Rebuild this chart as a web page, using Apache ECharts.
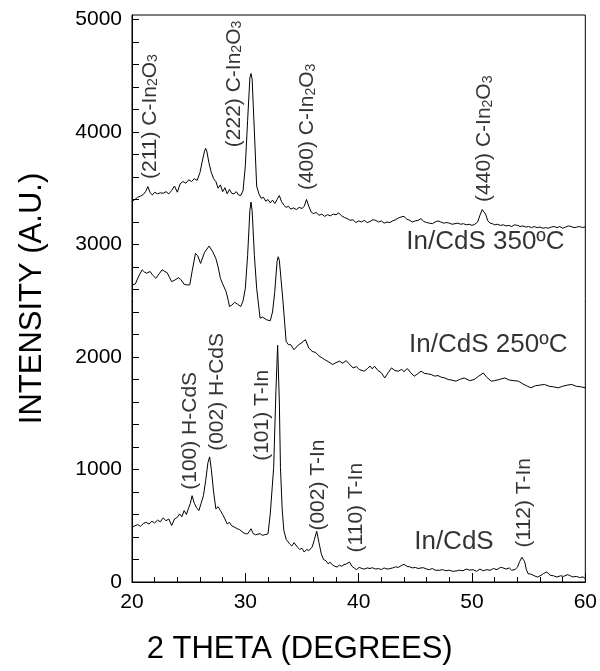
<!DOCTYPE html>
<html>
<head>
<meta charset="utf-8">
<script src="https://cdn.jsdelivr.net/npm/echarts@6/dist/echarts.min.js"></script>
<style>html,body{margin:0;background:#fff}#main{width:600px;height:671px}</style>
</head>
<body>
<div id="main"></div>
<script>
// XRD scans [2theta, intensity]
var scan350 = [
  [20.0,3384],[20.25,3400],[20.5,3420],[20.75,3430],[21.0,3445],[21.2,3470],[21.4,3515],[21.6,3460],[21.8,3440],
  [22.0,3465],[22.25,3450],[22.5,3460],[22.75,3455],[23.0,3470],[23.25,3450],[23.5,3480],[23.75,3520],[24.0,3465],
  [24.25,3540],[24.5,3560],[24.75,3545],[25.0,3575],[25.25,3560],[25.5,3585],[25.75,3570],[26.0,3640],[26.2,3740],
  [26.4,3830],[26.5,3855],[26.6,3830],[26.8,3720],[27.0,3640],[27.2,3585],[27.4,3560],[27.6,3500],[27.8,3530],
  [28.0,3470],[28.2,3505],[28.4,3450],[28.6,3490],[28.8,3455],[29.0,3450],[29.2,3470],[29.4,3440],[29.6,3435],
  [29.8,3480],[30.0,3700],[30.2,4100],[30.4,4480],[30.5,4520],[30.6,4470],[30.8,4000],[31.0,3520],[31.2,3450],
  [31.4,3410],[31.6,3420],[31.8,3385],[32.0,3400],[32.2,3370],[32.4,3395],[32.6,3365],[32.8,3400],[33.0,3435],
  [33.2,3380],[33.4,3350],[33.6,3330],[33.8,3340],[34.0,3315],[34.25,3325],[34.5,3310],[34.75,3330],[35.0,3320],
  [35.2,3340],[35.4,3400],[35.6,3340],[35.8,3290],[36.0,3275],[36.25,3285],[36.5,3260],[36.75,3270],[37.0,3250],
  [37.25,3265],[37.5,3255],[37.75,3270],[38.0,3265],[38.25,3280],[38.5,3255],[38.75,3240],[39.0,3230],[39.25,3215],
  [39.5,3220],[39.75,3195],[40.0,3210],[40.25,3200],[40.5,3215],[40.75,3195],[41.0,3205],[41.25,3220],[41.5,3215],
  [41.75,3200],[42.0,3210],[42.25,3190],[42.5,3200],[42.75,3195],[43.0,3210],[43.25,3220],[43.5,3235],[43.75,3245],
  [44.0,3250],[44.25,3225],[44.5,3215],[44.75,3200],[45.0,3210],[45.25,3215],[45.5,3230],[45.75,3205],[46.0,3195],
  [46.25,3190],[46.5,3185],[46.75,3200],[47.0,3210],[47.25,3200],[47.5,3190],[47.75,3195],[48.0,3190],[48.25,3180],
  [48.5,3185],[48.75,3190],[49.0,3180],[49.25,3185],[49.5,3175],[49.75,3180],[50.0,3170],[50.25,3180],[50.5,3200],
  [50.7,3260],[50.9,3310],[51.0,3315],[51.2,3270],[51.4,3210],[51.6,3190],[51.8,3185],[52.0,3175],[52.25,3180],
  [52.5,3170],[52.75,3175],[53.0,3165],[53.25,3170],[53.5,3160],[53.75,3175],[54.0,3170],[54.25,3160],[54.5,3165],
  [54.75,3155],[55.0,3160],[55.25,3150],[55.5,3160],[55.75,3150],[56.0,3155],[56.25,3145],[56.5,3150],[56.75,3145],
  [57.0,3155],[57.25,3160],[57.5,3150],[57.75,3160],[58.0,3145],[58.25,3155],[58.5,3165],[58.75,3160],[59.0,3150],
  [59.25,3155],[59.5,3160],[59.75,3150],[60.0,3157]
];
var scan250 = [
  [20.0,2640],[20.3,2650],[20.6,2720],[20.9,2775],[21.1,2755],[21.3,2745],[21.6,2760],[21.8,2730],[22.1,2700],
  [22.4,2740],[22.65,2775],[22.9,2760],[23.1,2750],[23.3,2710],[23.5,2670],[23.8,2685],[24.1,2705],[24.3,2690],
  [24.6,2646],[24.9,2640],[25.1,2642],[25.3,2760],[25.6,2920],[25.8,2900],[26.05,2832],[26.4,2930],[26.8,2986],
  [27.1,2940],[27.4,2876],[27.6,2800],[27.8,2700],[28.0,2650],[28.3,2582],[28.5,2500],[28.6,2449],[28.8,2460],
  [29.05,2487],[29.3,2470],[29.6,2449],[29.8,2500],[30.0,2611],[30.2,2900],[30.4,3300],[30.5,3378],[30.6,3300],
  [30.8,2900],[31.0,2611],[31.3,2345],[31.5,2355],[31.65,2354],[31.9,2330],[32.2,2322],[32.4,2400],[32.6,2582],
  [32.8,2850],[32.9,2891],[33.0,2860],[33.3,2522],[33.6,2139],[33.8,2110],[34.0,2110],[34.3,2065],[34.6,2100],
  [35.0,2130],[35.3,2154],[35.6,2080],[35.9,2050],[36.2,2040],[36.5,2010],[36.8,1990],[37.0,1977],[37.3,1960],
  [37.7,1933],[38.0,1950],[38.3,1963],[38.6,1945],[38.9,1968],[39.2,1935],[39.5,1903],[39.8,1915],[40.05,1889],
  [40.3,1880],[40.5,1874],[40.8,1900],[41.0,1920],[41.2,1895],[41.4,1918],[41.7,1880],[42.0,1860],[42.3,1814],
  [42.6,1860],[42.9,1903],[43.2,1880],[43.5,1874],[43.8,1890],[44.0,1870],[44.3,1897],[44.6,1860],[44.9,1829],
  [45.2,1850],[45.5,1874],[45.8,1855],[46.1,1850],[46.4,1844],[46.7,1830],[47.0,1835],[47.3,1820],[47.6,1814],
  [47.9,1800],[48.2,1795],[48.6,1785],[48.9,1800],[49.3,1814],[49.8,1790],[50.2,1800],[50.6,1830],[51.0,1858],
  [51.3,1820],[51.7,1785],[52.0,1790],[52.4,1800],[52.9,1814],[53.3,1795],[53.7,1790],[54.1,1785],[54.5,1760],
  [54.9,1740],[55.2,1726],[55.6,1745],[56.0,1750],[56.4,1756],[56.8,1740],[57.2,1735],[57.6,1726],[58.0,1740],
  [58.4,1750],[58.8,1756],[59.2,1740],[59.6,1735],[60.0,1726]
];
var scanAsDep = [
  [20.0,487],[20.25,500],[20.5,510],[20.75,495],[21.0,520],[21.25,530],[21.5,515],[21.75,540],[22.0,525],
  [22.25,550],[22.5,535],[22.75,570],[23.0,545],[23.25,560],[23.5,502],[23.75,560],[24.0,575],[24.2,605],
  [24.4,580],[24.6,635],[24.8,600],[25.0,660],[25.15,700],[25.3,767],[25.5,700],[25.7,660],[25.9,635],[26.1,700],
  [26.3,767],[26.5,900],[26.7,1060],[26.85,1112],[27.0,1000],[27.2,800],[27.4,650],[27.6,670],[27.8,635],
  [28.0,600],[28.2,560],[28.4,517],[28.6,530],[28.8,500],[29.0,490],[29.3,473],[29.5,465],[29.8,440],[30.0,430],
  [30.2,428],[30.35,450],[30.5,473],[30.7,430],[30.9,420],[31.06,413],[31.3,430],[31.5,415],[31.7,420],[32.0,428],
  [32.2,605],[32.5,1018],[32.7,1700],[32.85,2104],[33.0,1600],[33.1,1018],[33.25,650],[33.4,458],[33.6,380],
  [33.9,340],[34.1,320],[34.3,350],[34.6,310],[34.8,290],[35.0,300],[35.2,266],[35.4,290],[35.6,280],[35.9,310],
  [36.1,380],[36.3,451],[36.5,350],[36.7,251],[36.9,200],[37.1,190],[37.3,163],[37.5,175],[37.7,150],[37.9,140],
  [38.1,133],[38.3,150],[38.5,140],[38.7,155],[38.9,160],[39.2,177],[39.4,140],[39.6,125],[39.8,110],[40.05,130],
  [40.3,120],[40.5,115],[40.75,125],[41.0,120],[41.2,127],[41.5,115],[41.75,120],[42.0,110],[42.25,125],[42.5,115],
  [42.7,118],[43.0,125],[43.25,135],[43.5,130],[43.75,145],[44.0,157],[44.25,140],[44.5,135],[44.75,125],[45.0,130],
  [45.25,120],[45.5,125],[45.7,127],[46.0,115],[46.25,110],[46.5,120],[46.75,105],[47.1,104],[47.4,110],[47.7,100],
  [48.0,105],[48.3,95],[48.6,98],[48.9,105],[49.2,100],[49.5,115],[49.8,105],[50.1,110],[50.4,95],[50.7,115],
  [51.0,100],[51.3,110],[51.6,104],[51.9,120],[52.2,110],[52.5,130],[52.7,127],[53.0,115],[53.3,125],[53.5,105],
  [53.8,110],[54.0,130],[54.2,180],[54.4,220],[54.5,227],[54.65,180],[54.8,110],[54.95,74],[55.2,70],[55.5,55],
  [55.8,44],[56.1,60],[56.3,75],[56.6,89],[56.9,60],[57.2,55],[57.5,44],[57.8,55],[58.1,50],[58.4,65],[58.6,59],
  [58.9,45],[59.2,50],[59.5,40],[59.8,45],[60.0,30]
];

// peak labels: [2theta, intensity where text starts, text]
var peakLabels = [
  [21.6,3582,'(211) C-In2O3'],
  [29.0,3865,'(222) C-In2O3'],
  [35.5,3484,'(400) C-In2O3'],
  [51.1,3378,'(440) C-In2O3'],
  [25.1,820,'(100) H-CdS'],
  [27.5,1166,'(002) H-CdS'],
  [31.5,1077,'(101) T-In'],
  [36.4,457,'(002) T-In'],
  [39.8,263,'(110) T-In'],
  [54.6,307,'(112) T-In']
];
var sampleLabels = [
  [44.2,3024,'In/CdS 350ºC'],
  [44.45,2104,'In/CdS 250ºC'],
  [44.9,360,'In/CdS']
];
var yTicks = [0,200,400,600,800,1000,1200,1400,1600,1800,2000,2200,2400,2600,2800,3000,3200,3400,3600,3800,4000,4200,4400,4600,4800,5000];
var yLabels = [0,1000,2000,3000,4000,5000];

var font = 'Liberation Sans, Arial, sans-serif';

function richText(t) {
  if (t.indexOf('In2O3') < 0) return '{n|' + t + '}';
  return '{n|' + t.replace('In2O3', 'In') + '}{s|2}{n|O}{s|3}';
}

var labelData = peakLabels.map(function (p) {
  return {
    value: [p[0], p[1]],
    label: { formatter: richText(p[2]), rotate: 90 }
  };
});
var sampleData = sampleLabels.map(function (p) {
  return { value: [p[0], p[1]], label: { formatter: p[2] } };
});

function trace(name, data) {
  return {
    name: name, type: 'line', data: data, showSymbol: false, symbol: 'none',
    lineStyle: { color: '#000', width: 1 }, z: 3
  };
}

var myChart = echarts.init(document.getElementById('main'));
var option = {
  animation: false,
  backgroundColor: '#fff',
  grid: { left: 132, right: 12, top: 15, bottom: 89, show: true, borderColor: '#000', borderWidth: 1 },
  xAxis: {
    type: 'value', min: 20, max: 60, interval: 10,
    name: '2 THETA (DEGREES)', nameLocation: 'middle', nameGap: 52,
    nameTextStyle: { fontFamily: font, fontSize: 31, color: '#000', padding: [0, 118, 0, 0] },
    axisLine: { lineStyle: { color: '#000' } },
    axisTick: { inside: true, length: 9, lineStyle: { color: '#000' } },
    minorTick: { show: true, splitNumber: 5, length: 5, lineStyle: { color: '#000' } },
    axisLabel: { fontFamily: font, fontSize: 21, color: '#000', margin: 10 },
    splitLine: { show: false }
  },
  yAxis: {
    type: 'value', min: 0, max: 5040,
    name: 'INTENSITY (A.U.)', nameLocation: 'middle', nameGap: 84,
    nameTextStyle: { fontFamily: font, fontSize: 31, color: '#000' },
    axisLine: { lineStyle: { color: '#000' } },
    axisTick: { inside: true, length: 7, customValues: yTicks, lineStyle: { color: '#000' } },
    axisLabel: {
      fontFamily: font, fontSize: 21, color: '#000', margin: 10, customValues: yLabels,
      formatter: function (v) { return String(v); }
    },
    splitLine: { show: false }
  },
  series: [
    trace('In/CdS 350ºC', scan350),
    trace('In/CdS 250ºC', scan250),
    trace('In/CdS', scanAsDep),
    {
      type: 'scatter', silent: true, symbolSize: 1, itemStyle: { color: 'rgba(0,0,0,0)' }, z: 4,
      label: {
        show: true, position: 'inside', align: 'left', verticalAlign: 'middle',
        rich: {
          n: { fontFamily: font, fontSize: 21, color: '#000', lineHeight: 21 },
          s: { fontFamily: font, fontSize: 14, color: '#000', lineHeight: 14, verticalAlign: 'bottom' }
        }
      },
      data: labelData
    },
    {
      type: 'scatter', silent: true, symbolSize: 1, itemStyle: { color: 'rgba(0,0,0,0)' }, z: 4,
      label: {
        show: true, position: 'inside', align: 'left', verticalAlign: 'middle',
        fontFamily: font, fontSize: 26, color: '#000'
      },
      data: sampleData
    }
  ]
};
myChart.setOption(option);
</script>
</body>
</html>
